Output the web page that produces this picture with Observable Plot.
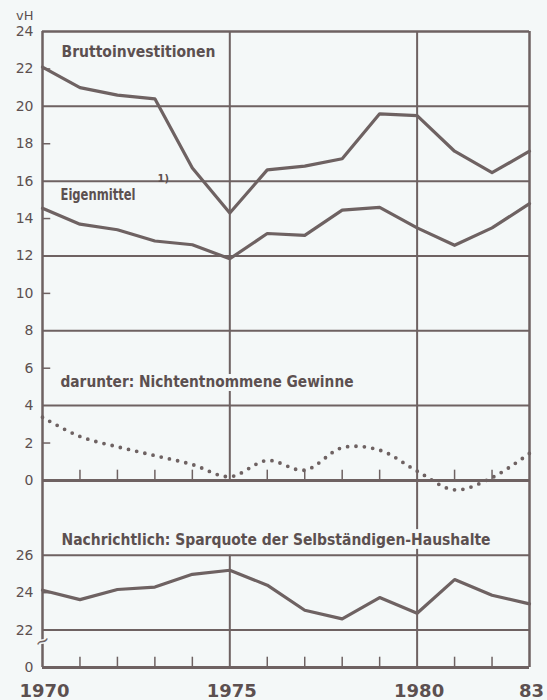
<!DOCTYPE html>
<html><head><meta charset="utf-8">
<script src="https://cdn.jsdelivr.net/npm/d3@7"></script>
<script src="https://cdn.jsdelivr.net/npm/@observablehq/plot@0.6"></script>
<style>
html,body{margin:0;padding:0;background:#f4f8f8;}
</style>
</head><body><div id="chart"></div>
<script>
// ---- data (vH) ----
const years = [1970,1971,1972,1973,1974,1975,1976,1977,1978,1979,1980,1981,1982,1983];
const bruttoinvestitionen = [22.1,21.0,20.6,20.4,16.7,14.3,16.6,16.8,17.2,19.6,19.5,17.6,16.45,17.6];
const eigenmittel = [14.55,13.7,13.4,12.8,12.6,11.85,13.2,13.1,14.45,14.6,13.5,12.57,13.5,14.8];
const nichtentnommeneGewinne = [3.38,2.35,1.8,1.33,0.85,0.2,1.07,0.55,1.75,1.62,0.5,-0.5,0.15,1.45];
const sparquote = [24.13,23.63,24.17,24.3,24.98,25.2,24.4,23.06,22.6,23.74,22.9,24.7,23.86,23.4];

const upperTicks = [0,2,4,6,8,10,12,14,16,18,20,22,24];
const lowerTicks = [20,22,24,26];
const lowerTickLabels = ["0","22","24","26"];
const xTicks = [1970,1975,1980,1983];
const xTickLabels = ["1970","1975","1980","83"];

const labelBrutto = "Bruttoinvestitionen";
const labelEigen = "Eigenmittel";
const labelNote = "1)";
const labelGewinne = "darunter: Nichtentnommene Gewinne";
const labelSpar = "Nachrichtlich: Sparquote der Selbständigen-Haushalte";

// lower panel shares the y scale, shifted below the upper panel (broken axis)
const OFFSET = 30;
const lo = v => v - OFFSET;

const ink = "#6e6262", txt = "#5c5050", bg = "#f4f8f8";
const labelFont = "'DejaVu Sans Condensed','DejaVu Sans',sans-serif";

const rows = years.map((year, i) => ({
  year,
  brutto: bruttoinvestitionen[i],
  eigen: eigenmittel[i],
  gew: nichtentnommeneGewinne[i],
  spar: sparquote[i]
}));
const minorYears = years.filter(y => !xTicks.includes(y));
const yTickRows = [
  ...upperTicks.map(v => ({y: v, t: String(v)})),
  ...lowerTicks.map((v, i) => ({y: lo(v), t: lowerTickLabels[i]}))
];

const chart = Plot.plot({
  width: 547, height: 700,
  marginLeft: 42, marginRight: 18, marginTop: 31, marginBottom: 33,
  x: {domain: [1970, 1983], axis: null},
  y: {domain: [lo(20), 24], axis: null},
  style: {background: bg, fontFamily: "'DejaVu Sans',sans-serif", overflow: "visible"},
  marks: [
    // grid
    Plot.ruleY([20,16,12,8,4], {stroke: ink, strokeWidth: 2}),
    Plot.ruleY([26,22], {y: lo, stroke: ink, strokeWidth: 2}),
    Plot.ruleY([0], {stroke: ink, strokeWidth: 3}),
    Plot.ruleY([24], {stroke: ink, strokeWidth: 2.5}),
    Plot.ruleY([20], {y: lo, stroke: ink, strokeWidth: 3}),
    // verticals
    Plot.ruleX([1975], {y1: 0, y2: 24, stroke: ink, strokeWidth: 2}),
    Plot.ruleX([1975], {y1: lo(20), y2: lo(26), stroke: ink, strokeWidth: 2}),
    Plot.ruleX([1980], {y1: lo(20), y2: 24, stroke: ink, strokeWidth: 2}),
    Plot.ruleX([1970, 1983], {y1: lo(20), y2: 24, stroke: ink, strokeWidth: 2.5}),
    // minor ticks
    Plot.ruleX(minorYears, {y1: 0, y2: 0.55, stroke: ink, strokeWidth: 1.5}),
    Plot.ruleX(minorYears, {y1: lo(20), y2: lo(20.55), stroke: ink, strokeWidth: 1.5}),
    Plot.ruleY([2,6,10,14,18,22], {x1: 1970, x2: 1970.22, stroke: ink, strokeWidth: 1.5}),
    Plot.ruleY([24], {y: lo, x1: 1970, x2: 1970.22, stroke: ink, strokeWidth: 1.5}),
    // data
    Plot.line(rows, {x: "year", y: "brutto", stroke: ink, strokeWidth: 3.2, strokeLinejoin: "round"}),
    Plot.line(rows, {x: "year", y: "eigen", stroke: ink, strokeWidth: 3.2, strokeLinejoin: "round"}),
    Plot.line(rows, {x: "year", y: d => lo(d.spar), stroke: ink, strokeWidth: 3.2, strokeLinejoin: "round"}),
    Plot.line(rows, {x: "year", y: "gew", curve: "catmull-rom", stroke: ink, strokeWidth: 3.8,
      strokeDasharray: "0 8.4", strokeLinecap: "round"}),
    // axis break mark
    Plot.text(["~"], {x: 1970, y: lo(21.4), text: d => d, fontSize: 18, fill: ink, stroke: bg, strokeWidth: 3, rotate: -25}),
    // tick labels
    Plot.text(yTickRows, {x: 1970, y: "y", text: "t", dx: -9, textAnchor: "end", fontSize: 14, fill: txt}),
    Plot.text(xTicks, {x: d => d, y: lo(20), text: (d, i) => xTickLabels[i], dy: 17, dx: 2, lineAnchor: "top",
      fontSize: 18, fontWeight: "bold", fill: txt}),
    Plot.text(["vH"], {x: 1970, y: 24, text: d => d, dx: -9, dy: -12, textAnchor: "end", lineAnchor: "bottom", fontSize: 13, fill: txt}),
    // series labels
    Plot.text([labelBrutto], {x: 1970, y: 22.65, dx: 19, text: d => d, textAnchor: "start", lineAnchor: "bottom",
      fontSize: 16, fontWeight: "bold", fontFamily: labelFont, fill: txt, stroke: bg, strokeWidth: 7}),
    Plot.text([labelEigen], {x: 1970, y: 15.0, dx: 18, text: d => d, textAnchor: "start", lineAnchor: "bottom",
      fontSize: 16, fontWeight: "bold", fontFamily: labelFont, fill: txt, stroke: bg, strokeWidth: 7}),
    Plot.text([labelNote], {x: 1970, y: 15.93, dx: 115, text: d => d, textAnchor: "start", lineAnchor: "bottom",
      fontSize: 11, fontWeight: "bold", fontFamily: labelFont, fill: txt}),
    Plot.text([labelGewinne], {x: 1970, y: 5.0, dx: 18, text: d => d, textAnchor: "start", lineAnchor: "bottom",
      fontSize: 16, fontWeight: "bold", fontFamily: labelFont, fill: txt, stroke: bg, strokeWidth: 8}),
    Plot.text([labelSpar], {x: 1970, y: -3.47, dx: 19, text: d => d, textAnchor: "start", lineAnchor: "bottom",
      fontSize: 16, fontWeight: "bold", fontFamily: labelFont, fill: txt, stroke: bg, strokeWidth: 8})
  ]
});

// fit label widths to the reference lettering
const widths = new Map([[labelBrutto, 154], [labelEigen, 75], [labelGewinne, 293], [labelSpar, 429]]);
chart.querySelectorAll("text").forEach(t => {
  const w = widths.get(t.textContent);
  if (w) { t.setAttribute("textLength", w); t.setAttribute("lengthAdjust", "spacingAndGlyphs"); }
});
document.getElementById("chart").appendChild(chart);
</script>
</body></html>
